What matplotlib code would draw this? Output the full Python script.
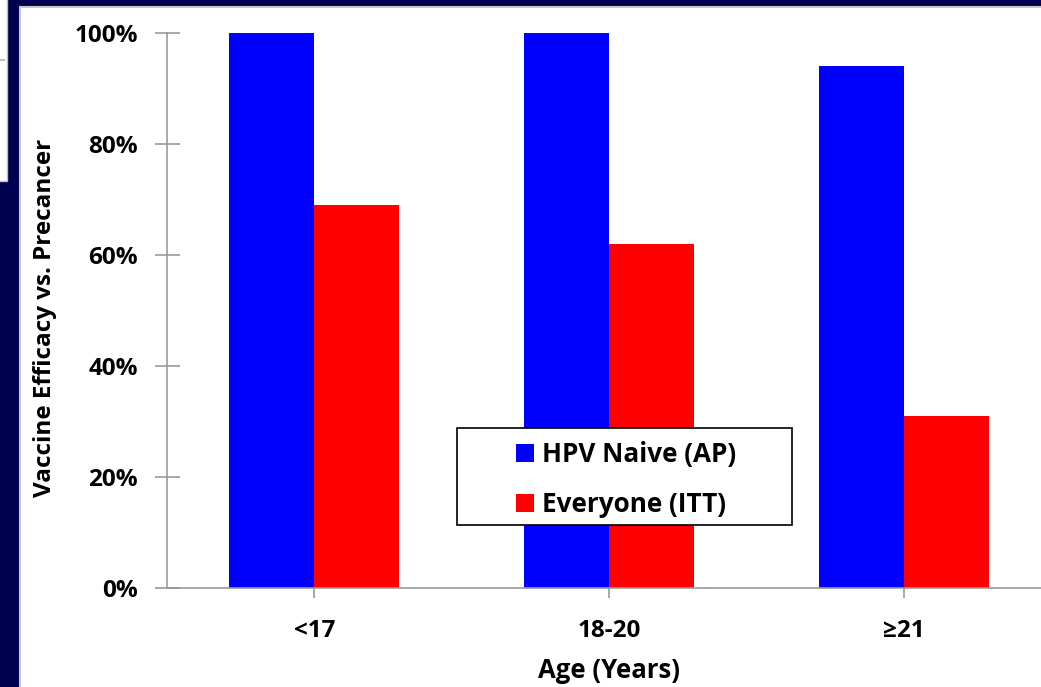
import matplotlib.pyplot as plt
import numpy as np
from matplotlib.patches import Rectangle

# Vaccine efficacy by age group
age_groups = ['<17', '18-20', '≥21']
naive_ap = [100, 100, 94]
everyone_itt = [69, 62, 31]
y_ticks = [0, 20, 40, 60, 80, 100]
series_names = ['HPV Naive (AP)', 'Everyone (ITT)']

plt.rcParams['font.family'] = ['Open Sans', 'DejaVu Sans']
plt.rcParams['font.weight'] = 'bold'

W, H = 1041, 687
fig = plt.figure(figsize=(W / 100, H / 100), dpi=100)
fig.patch.set_facecolor('#000050')


def px_rect(left, top, right, bottom, **kw):
    # rectangle in figure pixel coords (origin top-left)
    return Rectangle((left / W, 1 - bottom / H), (right - left) / W, (bottom - top) / H,
                     transform=fig.transFigure, **kw)


# white slide panel behind the chart
fig.patches.append(px_rect(20, 7, 1045, 690, facecolor='white', edgecolor='#c8c8c8',
                           linewidth=1.5, zorder=0))
# sliver of another panel at the top-left edge
fig.patches.append(px_rect(-3, -3, 7, 181, facecolor='white', edgecolor='#bdbdbd',
                           linewidth=1, zorder=0))
fig.patches.append(px_rect(0, 59.5, 5, 60.5, facecolor='#bdbdbd', linewidth=0, zorder=1))

# axes: y axis at x=167, baseline y=588, 100% at y=33; right end past the panel edge
x0, x1 = 167, 1051
y0, y1 = 588, 33
ax = fig.add_axes([x0 / W, 1 - y0 / H, (x1 - x0) / W, (y0 - y1) / H])
ax.set_zorder(2)
ax.patch.set_alpha(0)

x = np.arange(len(age_groups))
bw = 0.288
ax.bar(x - bw / 2, naive_ap, bw, color='#0000ff', label=series_names[0], zorder=2)
ax.bar(x + bw / 2, everyone_itt, bw, color='#ff0000', label=series_names[1], zorder=2)

ax.set_xlim(-0.5, 2.5)
ax.set_ylim(0, 100)
ax.set_yticks(y_ticks)
ax.set_yticklabels([f'{v}%' for v in y_ticks])
ax.set_xticks(x)
ax.set_xticklabels(age_groups)

for s in ['top', 'right']:
    ax.spines[s].set_visible(False)
for s in ['left', 'bottom']:
    ax.spines[s].set_color('#999999')
    ax.spines[s].set_linewidth(1.2)
ax.spines['bottom'].set_zorder(3)

ax.tick_params(axis='y', direction='inout', length=18, width=1.2, color='#999999',
               labelsize=17.5, pad=12)
ax.tick_params(axis='x', direction='out', length=7, width=1.2, color='#999999',
               labelsize=17.5, pad=15)

fig.text(45 / W, 1 - 318 / H, 'Vaccine Efficacy vs. Precancer', rotation=90,
         ha='center', va='center', fontsize=17.5, zorder=3)
fig.text(609 / W, 1 - 671 / H, 'Age (Years)', ha='center', va='center',
         fontsize=18.5, zorder=3)

# legend: box drawn separately so its padding can differ per side
legbox = px_rect(457, 428, 792, 525, facecolor='white', edgecolor='black',
                 linewidth=1.2, zorder=4)
ax.add_artist(legbox)
leg = ax.legend(loc='upper left',
                bbox_to_anchor=((516 - x0) / (x1 - x0), (y0 - 441) / (y0 - y1)),
                frameon=False, prop={'weight': 'bold', 'size': 18.8},
                handlelength=0.7, handleheight=0.7, handletextpad=0.3,
                borderpad=0, labelspacing=0.88, borderaxespad=0)
leg.set_zorder(5)

fig.savefig('out.png', dpi=100, facecolor=fig.get_facecolor())
